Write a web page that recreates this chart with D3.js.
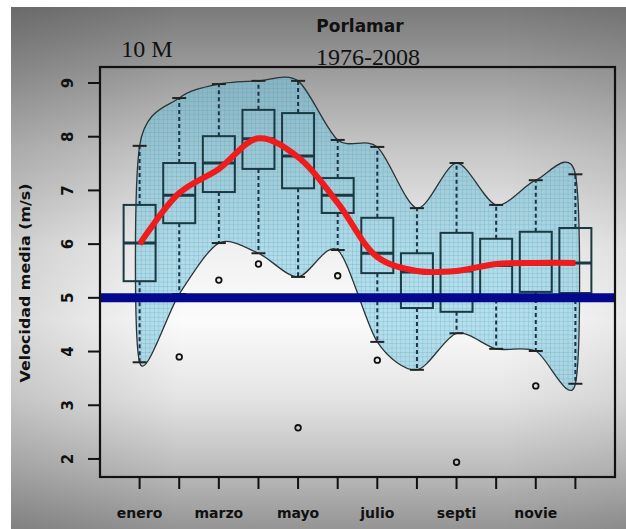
<!DOCTYPE html>
<html><head><meta charset="utf-8">
<script src="https://cdn.jsdelivr.net/npm/d3@7"></script>
<style>html,body{margin:0;padding:0;background:#fff;} svg{display:block}</style>
</head><body>
<script>
// ---------- data ----------
const monthNames = ["enero","febre","marzo","abril","mayo","junio","julio","agost","septi","octub","novie","dicie"];
const yTickValues = [2,3,4,5,6,7,8,9];
const upperWhisker = [7.83, 8.72, 8.98, 9.04, 9.04, 7.94, 7.81, 6.67, 7.51, 6.73, 7.19, 7.30];
const q3Values     = [6.73, 7.51, 8.01, 8.50, 8.44, 7.23, 6.49, 5.83, 6.21, 6.10, 6.23, 6.30];
const medianValues = [6.02, 6.91, 7.51, 7.96, 7.64, 6.91, 5.83, 5.48, 5.50, 5.60, 5.62, 5.65];
const q1Values     = [5.31, 6.39, 6.97, 7.40, 7.04, 6.58, 5.46, 4.81, 4.74, 4.97, 5.11, 5.09];
const lowerWhisker = [3.80, 5.07, 6.02, 5.83, 5.39, 5.89, 4.18, 3.66, 4.34, 4.05, 4.01, 3.40];
const outlierMonths = [2, 3, 4, 5, 6, 7, 9, 11];
const outlierValues = [3.90, 5.33, 5.63, 2.58, 5.41, 3.84, 1.94, 3.36];
const meanValues   = [6.00, 6.95, 7.40, 7.97, 7.62, 6.77, 5.76, 5.50, 5.50, 5.63, 5.65, 5.65];
const referenceLevel = 5;
const titleText = "Porlamar";
const subtitleText = "1976-2008";
const heightText = "10 M";
const yLabelText = "Velocidad media (m/s)";

// ---------- layout ----------
const W = 626, H = 529;
const svg = d3.select("body").append("svg").attr("width", W).attr("height", H);
const defs = svg.append("defs");

const bg = defs.append("linearGradient").attr("id","bg").attr("gradientUnits","userSpaceOnUse")
  .attr("x1",0).attr("y1",7).attr("x2",0).attr("y2",529);
[[0,"#7a7a7a"],[0.115,"#9a9a9a"],[0.27,"#c6c6c6"],[0.46,"#f0f0f0"],[0.6,"#fbfbfb"],[0.75,"#e4e4e4"],[0.88,"#bebebe"],[1,"#959595"]]
  .forEach(([o,c])=>bg.append("stop").attr("offset",o).attr("stop-color",c));
const vl = defs.append("linearGradient").attr("id","vl").attr("gradientUnits","userSpaceOnUse")
  .attr("x1",11).attr("y1",0).attr("x2",180).attr("y2",0);
vl.append("stop").attr("offset",0).attr("stop-color","#000").attr("stop-opacity",0.14);
vl.append("stop").attr("offset",1).attr("stop-color","#000").attr("stop-opacity",0);
const vr = defs.append("linearGradient").attr("id","vr").attr("gradientUnits","userSpaceOnUse")
  .attr("x1",626).attr("y1",0).attr("x2",500).attr("y2",0);
vr.append("stop").attr("offset",0).attr("stop-color","#000").attr("stop-opacity",0.07);
vr.append("stop").attr("offset",1).attr("stop-color","#000").attr("stop-opacity",0);

const pat = defs.append("pattern").attr("id","grid").attr("patternUnits","userSpaceOnUse")
  .attr("width",4.4).attr("height",4.4);
pat.append("rect").attr("width",4.4).attr("height",4.4).attr("fill","rgb(118,198,222)").attr("fill-opacity",0.5);
pat.append("path").attr("d","M0,0.4H4.4M0.4,0V4.4").attr("stroke","rgb(50,150,190)").attr("stroke-opacity",0.28).attr("stroke-width",0.8);

svg.append("rect").attr("x",11).attr("y",7).attr("width",W-11).attr("height",H-7).attr("fill","url(#bg)");
svg.append("rect").attr("x",11).attr("y",7).attr("width",W-11).attr("height",H-7).attr("fill","url(#vl)");
svg.append("rect").attr("x",11).attr("y",7).attr("width",W-11).attr("height",H-7).attr("fill","url(#vr)");

const x = d3.scaleLinear().domain([0, 13]).range([100, 615]);
const y = d3.scaleLinear().domain([1.664, 9.298]).range([477, 67]);
const months = d3.range(1, 13);

// ---------- envelope ----------
const env = months.map((m,i)=>[x(m), y(upperWhisker[i])])
  .concat(months.slice().reverse().map(m=>[x(m), y(lowerWhisker[m-1])]));
const envLine = d3.line().curve(d3.curveCardinalClosed.tension(0.15));
svg.append("path").attr("d", envLine(env)).attr("fill","url(#grid)")
  .attr("stroke","#2b3436").attr("stroke-width",1.3);

// ---------- whiskers & boxes ----------
const boxW = 32, capW = 14;
const wcol = "#1c3148", bcol = "#193a43";
const g = svg.append("g");
months.forEach((m,i)=>{
  const cx = x(m);
  g.append("line").attr("x1",cx).attr("x2",cx).attr("y1",y(q3Values[i])).attr("y2",y(upperWhisker[i]))
    .attr("stroke",wcol).attr("stroke-width",2).attr("stroke-dasharray","4,3");
  g.append("line").attr("x1",cx).attr("x2",cx).attr("y1",y(q1Values[i])).attr("y2",y(lowerWhisker[i]))
    .attr("stroke",wcol).attr("stroke-width",2).attr("stroke-dasharray","4,3");
  g.append("line").attr("x1",cx-capW/2).attr("x2",cx+capW/2).attr("y1",y(upperWhisker[i])).attr("y2",y(upperWhisker[i]))
    .attr("stroke","#222").attr("stroke-width",2);
  g.append("line").attr("x1",cx-capW/2).attr("x2",cx+capW/2).attr("y1",y(lowerWhisker[i])).attr("y2",y(lowerWhisker[i]))
    .attr("stroke","#222").attr("stroke-width",2);
  g.append("rect").attr("x",cx-boxW/2).attr("width",boxW).attr("y",y(q3Values[i]))
    .attr("height",y(q1Values[i])-y(q3Values[i])).attr("fill","none").attr("stroke",bcol).attr("stroke-width",2);
  g.append("line").attr("x1",cx-boxW/2).attr("x2",cx+boxW/2).attr("y1",y(medianValues[i])).attr("y2",y(medianValues[i]))
    .attr("stroke",bcol).attr("stroke-width",3);
});
outlierMonths.forEach((m,i)=>{
  g.append("circle").attr("cx",x(m)).attr("cy",y(outlierValues[i])).attr("r",2.8)
    .attr("fill","none").attr("stroke","#111").attr("stroke-width",1.8);
});

// ---------- mean line ----------
svg.append("path").attr("d", d3.line().curve(d3.curveCatmullRom.alpha(0.5))(months.map((m,i)=>[x(m), y(meanValues[i])])))
  .attr("fill","none").attr("stroke","#ee1c1c").attr("stroke-width",6);

// ---------- reference line ----------
svg.append("line").attr("x1",x(0)).attr("x2",x(13)).attr("y1",y(referenceLevel)).attr("y2",y(referenceLevel))
  .attr("stroke","#04088c").attr("stroke-width",9);

// ---------- frame & axes ----------
svg.append("rect").attr("x",100).attr("y",67).attr("width",515).attr("height",410)
  .attr("fill","none").attr("stroke","#111").attr("stroke-width",2.2);

const yAxis = svg.append("g");
yTickValues.forEach(v=>{
  yAxis.append("line").attr("x1",88).attr("x2",100).attr("y1",y(v)).attr("y2",y(v)).attr("stroke","#111").attr("stroke-width",2);
  yAxis.append("text").attr("transform",`translate(73,${y(v)}) rotate(-90)`).attr("text-anchor","middle")
    .attr("font-family","DejaVu Sans").attr("font-weight","bold").attr("font-size",15).attr("fill","#111").text(v);
});
const xAxis = svg.append("g");
months.forEach((m,i)=>{
  xAxis.append("line").attr("x1",x(m)).attr("x2",x(m)).attr("y1",477).attr("y2",489).attr("stroke","#111").attr("stroke-width",2);
  if (i % 2 === 0) {
    xAxis.append("text").attr("x",x(m)).attr("y",518).attr("text-anchor","middle")
      .attr("font-family","DejaVu Sans").attr("font-weight","bold").attr("font-size",14).attr("fill","#111")
      .text(monthNames[i]);
  }
});

svg.append("text").attr("transform","translate(30,283) rotate(-90)").attr("text-anchor","middle")
  .attr("font-family","DejaVu Sans").attr("font-weight","bold").attr("font-size",14).attr("fill","#111")
  .attr("textLength",199).attr("lengthAdjust","spacingAndGlyphs").text(yLabelText);

svg.append("text").attr("x",360).attr("y",32).attr("text-anchor","middle")
  .attr("font-family","DejaVu Sans").attr("font-weight","bold").attr("font-size",17).attr("fill","#111").text(titleText);
svg.append("text").attr("x",368).attr("y",65).attr("text-anchor","middle")
  .attr("font-family","Liberation Serif").attr("font-size",24).attr("fill","#111").text(subtitleText);
svg.append("text").attr("x",147).attr("y",57).attr("text-anchor","middle")
  .attr("font-family","Liberation Serif").attr("font-size",24).attr("fill","#111").text(heightText);
</script>
</body></html>
